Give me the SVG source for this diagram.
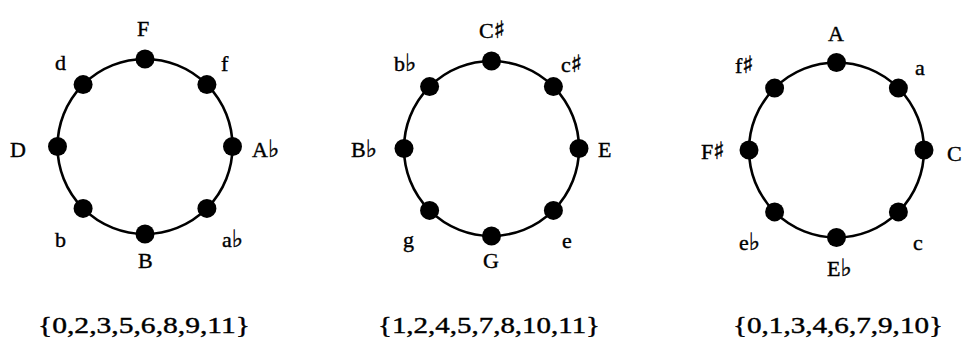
<svg xmlns="http://www.w3.org/2000/svg" width="967" height="347" viewBox="0 0 967 347">
<style>
.ring{fill:none;stroke:#000;stroke-width:2.6}
.dot{fill:#000}
text{font-family:"Liberation Serif","DejaVu Serif",serif;font-size:22px;fill:#000;stroke:#000;stroke-width:0.4}
.acc{font-family:"DejaVu Sans",sans-serif;font-size:24px}
.set{font-size:23px}
</style>
<rect width="967" height="347" fill="#fff"/>
<g id="connectors">
<circle class="ring" cx="145" cy="146.5" r="87.5"/>
<circle class="ring" cx="491.5" cy="148.5" r="87.5"/>
<circle class="ring" cx="836.5" cy="150" r="87.5"/>
</g>
<g id="c1-F"><circle class="dot" cx="145" cy="59" r="9.5"/><text x="137" y="36">F</text></g>
<g id="c1-f"><circle class="dot" cx="206.9" cy="84.6" r="9.5"/><text x="221" y="71">f</text></g>
<g id="c1-Ab"><circle class="dot" cx="232.5" cy="146.5" r="9.5"/><text x="252" y="157">A<tspan class="acc">♭</tspan></text></g>
<g id="c1-ab"><circle class="dot" cx="206.9" cy="208.4" r="9.5"/><text x="222" y="247">a<tspan class="acc">♭</tspan></text></g>
<g id="c1-B"><circle class="dot" cx="145" cy="234" r="9.5"/><text x="138" y="268">B</text></g>
<g id="c1-b"><circle class="dot" cx="83.1" cy="208.4" r="9.5"/><text x="55" y="247">b</text></g>
<g id="c1-D"><circle class="dot" cx="57.5" cy="146.5" r="9.5"/><text x="10" y="157">D</text></g>
<g id="c1-d"><circle class="dot" cx="83.1" cy="84.6" r="9.5"/><text x="55" y="70">d</text></g>

<g id="c2-Cs"><circle class="dot" cx="491.5" cy="61" r="9.5"/><text x="479" y="38">C<tspan class="acc">♯</tspan></text></g>
<g id="c2-cs"><circle class="dot" cx="553.4" cy="86.6" r="9.5"/><text x="561" y="72">c<tspan class="acc">♯</tspan></text></g>
<g id="c2-E"><circle class="dot" cx="579" cy="148.5" r="9.5"/><text x="598" y="157">E</text></g>
<g id="c2-e"><circle class="dot" cx="553.4" cy="210.4" r="9.5"/><text x="562" y="248">e</text></g>
<g id="c2-G"><circle class="dot" cx="491.5" cy="236" r="9.5"/><text x="483" y="268">G</text></g>
<g id="c2-g"><circle class="dot" cx="429.6" cy="210.4" r="9.5"/><text x="403" y="247">g</text></g>
<g id="c2-Bb"><circle class="dot" cx="404" cy="148.5" r="9.5"/><text x="351" y="157">B<tspan class="acc">♭</tspan></text></g>
<g id="c2-bb"><circle class="dot" cx="429.6" cy="86.6" r="9.5"/><text x="394" y="71">b<tspan class="acc">♭</tspan></text></g>

<g id="c3-A"><circle class="dot" cx="836.5" cy="62.5" r="9.5"/><text x="828" y="41">A</text></g>
<g id="c3-a"><circle class="dot" cx="898.4" cy="88.1" r="9.5"/><text x="915" y="75">a</text></g>
<g id="c3-C"><circle class="dot" cx="924" cy="150" r="9.5"/><text x="947" y="161">C</text></g>
<g id="c3-c"><circle class="dot" cx="898.4" cy="211.9" r="9.5"/><text x="913" y="250">c</text></g>
<g id="c3-Eb"><circle class="dot" cx="836.5" cy="237.5" r="9.5"/><text x="827" y="276">E<tspan class="acc">♭</tspan></text></g>
<g id="c3-eb"><circle class="dot" cx="774.6" cy="211.9" r="9.5"/><text x="739" y="250">e<tspan class="acc">♭</tspan></text></g>
<g id="c3-Fs"><circle class="dot" cx="749" cy="150" r="9.5"/><text x="701" y="159">F<tspan class="acc">♯</tspan></text></g>
<g id="c3-fs"><circle class="dot" cx="774.6" cy="88.1" r="9.5"/><text x="735" y="73">f<tspan class="acc">♯</tspan></text></g>

<text class="set" x="38" y="333" textLength="212" lengthAdjust="spacingAndGlyphs">{0,2,3,5,6,8,9,11}</text>
<text class="set" x="378" y="333" textLength="222" lengthAdjust="spacingAndGlyphs">{1,2,4,5,7,8,10,11}</text>
<text class="set" x="733" y="333" textLength="210" lengthAdjust="spacingAndGlyphs">{0,1,3,4,6,7,9,10}</text>
</svg>
